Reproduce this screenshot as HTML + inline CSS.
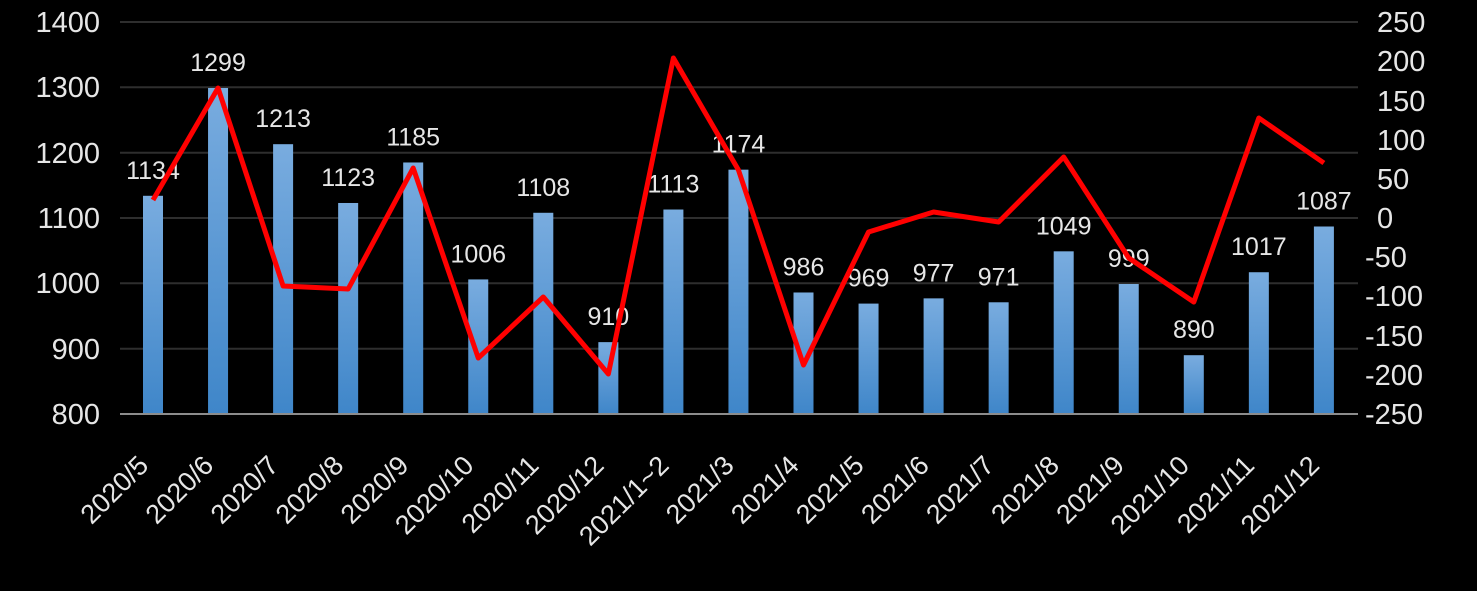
<!DOCTYPE html>
<html><head><meta charset="utf-8"><style>
html,body{margin:0;padding:0;background:#000;}
svg{display:block;}
text{font-family:"Liberation Sans",sans-serif;fill:#e6e6e6;}
</style></head><body>
<svg width="1477" height="591" viewBox="0 0 1477 591">
<defs><linearGradient id="g" x1="0" y1="0" x2="0" y2="1">
<stop offset="0" stop-color="#79acdf"/><stop offset="1" stop-color="#3f86c9"/></linearGradient></defs>
<g stroke="#2e2e2e" stroke-width="2">
<line x1="120" y1="22" x2="1358" y2="22"/><line x1="120" y1="87.3" x2="1358" y2="87.3"/>
<line x1="120" y1="152.7" x2="1358" y2="152.7"/><line x1="120" y1="218" x2="1358" y2="218"/>
<line x1="120" y1="283.3" x2="1358" y2="283.3"/><line x1="120" y1="348.7" x2="1358" y2="348.7"/>
</g>
<g id="bars"></g>
<line x1="120" y1="414" x2="1358" y2="414" stroke="#8c8c8c" stroke-width="2"/>
<g font-size="29" text-anchor="end">
<text x="100" y="32">1400</text><text x="100" y="97">1300</text><text x="100" y="163">1200</text>
<text x="100" y="228">1100</text><text x="100" y="293">1000</text><text x="100" y="359">900</text><text x="100" y="424">800</text>
</g>
<g font-size="29" text-anchor="start">
<text x="1377" y="32">250</text><text x="1377" y="71">200</text><text x="1377" y="111">150</text>
<text x="1377" y="150">100</text><text x="1377" y="189">50</text><text x="1377" y="228">0</text>
<text x="1365" y="267">-50</text><text x="1365" y="306">-100</text><text x="1365" y="346">-150</text>
<text x="1365" y="385">-200</text><text x="1365" y="424">-250</text>
</g>
<g id="rest"></g>
</svg>
<script>
const cats=["2020/5","2020/6","2020/7","2020/8","2020/9","2020/10","2020/11","2020/12","2021/1~2","2021/3","2021/4","2021/5","2021/6","2021/7","2021/8","2021/9","2021/10","2021/11","2021/12"];
const vals=[1134,1299,1213,1123,1185,1006,1108,910,1113,1174,986,969,977,971,1049,999,890,1017,1087];
const ly=[200,88,286,289,168,358,297,374,58,170,365,232,212,222,157,258,302,118,163];
let b="",r="",pts=[];
cats.forEach((c,i)=>{
 const cx=153+65.05*i, y=414-(vals[i]-800)*0.6533;
 b+=`<rect x="${cx-10}" y="${y}" width="20" height="${414-y}" fill="url(#g)"/>`;
 r+=`<text x="${cx}" y="${y-17}" font-size="25" text-anchor="middle">${vals[i]}</text>`;
 r+=`<text transform="translate(${cx-3},467) rotate(-45)" font-size="27" text-anchor="end">${c}</text>`;
 pts.push(`${cx},${ly[i]}`);
});
r+=`<polyline points="${pts.join(" ")}" fill="none" stroke="#ff0000" stroke-width="5" stroke-linejoin="round"/>`;
document.getElementById("bars").innerHTML=b;
document.getElementById("rest").innerHTML=r;
</script>
</body></html>
